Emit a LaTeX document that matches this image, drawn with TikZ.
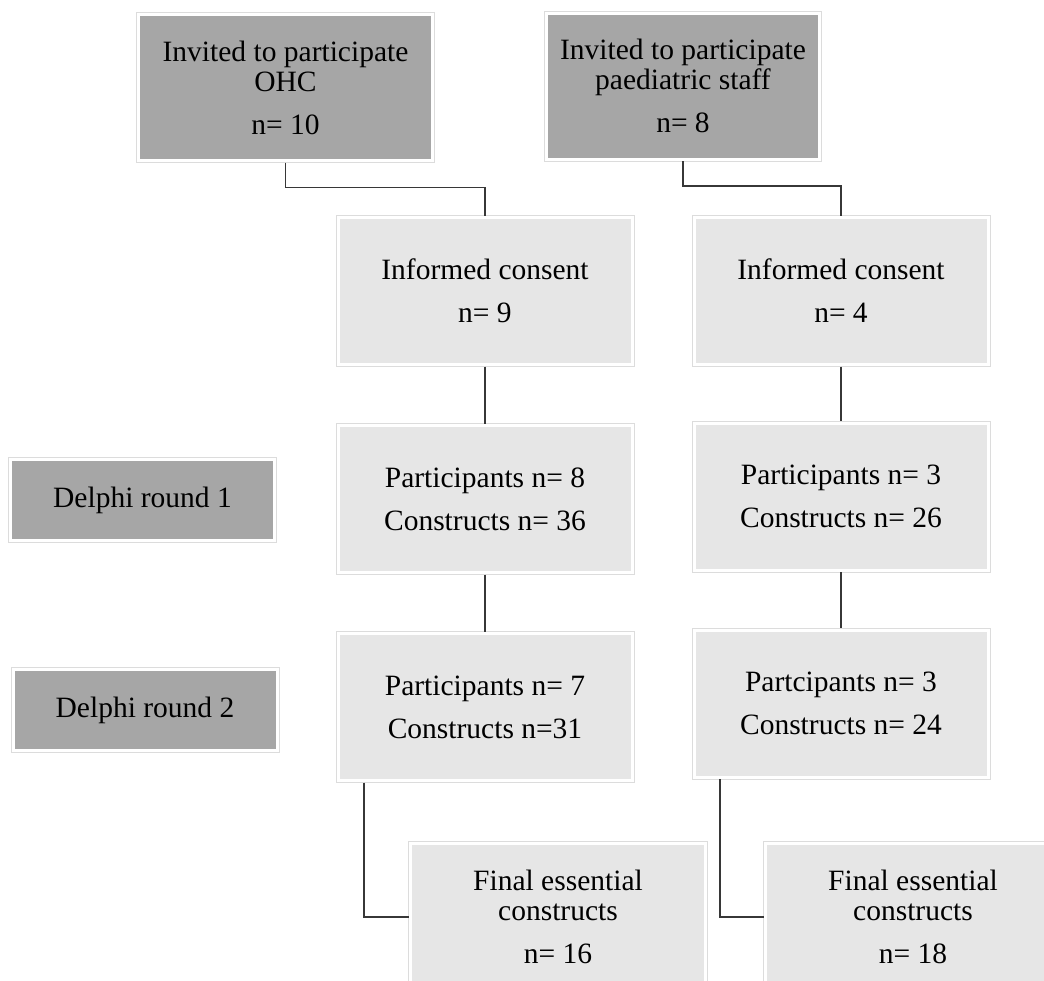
\documentclass[tikz,border=0pt]{standalone}
\usepackage{fontspec}
\setmainfont{Liberation Serif}
\definecolor{invitecolor}{RGB}{166, 166, 166}
\definecolor{stagecolor}{RGB}{230, 230, 230}
\definecolor{framecolor}{RGB}{220, 220, 220}
\definecolor{linecolor}{RGB}{55, 55, 55}
\tikzset{
blocktext/.style={
  align=center,
  font=\fontsize{14.75pt}{21.5pt}\selectfont,
  text=black
},
framed/.style={
  outer sep=1.75pt,
  append after command={
    \pgfextra{\draw[framecolor, line width=0.5pt]
      (\tikzlastnode.north west) rectangle (\tikzlastnode.south east);}
  }
},
inviteblock/.style={
  fill=invitecolor,
  minimum width=145.5pt,
  minimum height=71.5pt,
  framed,
  blocktext
},
stageblock/.style={
  fill=stagecolor,
  minimum width=145.5pt,
  minimum height=72pt,
  framed,
  blocktext
},
roundblock/.style={
  fill=invitecolor,
  minimum width=130.5pt,
  minimum height=39pt,
  framed,
  blocktext
},
link/.style={
  line width=0.75pt,
  draw=linecolor
}
}
\begin{document}
\begin{tikzpicture}[x=0.5pt, y=-0.5pt]
  \useasboundingbox (0,0) rectangle (1044,980);

  % invited
  \node[inviteblock] (ohc) at (285.5,87.5) {Invited to participate\\[-6.5pt] OHC\\ n= 10};
  \node[inviteblock, minimum width=135pt] (paed) at (683,86) {Invited to participate\\[-6.5pt] paediatric staff\\ n= 8};

  % delphi rounds
  \node[roundblock] (round1) at (142.5,500) {Delphi round 1};
  \node[roundblock] (round2) at (145,710) {Delphi round 2};

  % OHC column
  \node[stageblock] (consentL) at (485,291) {Informed consent\\ n= 9};
  \node[stageblock] (partL1) at (485,499) {Participants n= 8\\ Constructs n= 36};
  \node[stageblock] (partL2) at (485,707) {Participants n= 7\\ Constructs n=31};
  \node[stageblock, minimum width=146pt] (finalL) at (558,917) {Final essential\\[-6.5pt] constructs\\ n= 16};

  % paediatric column
  \node[stageblock] (consentR) at (841,291) {Informed consent\\ n= 4};
  \node[stageblock] (partR1) at (841,496.5) {Participants n= 3\\ Constructs n= 26};
  \node[stageblock] (partR2) at (841,703.5) {Partcipants n= 3\\ Constructs n= 24};
  \node[stageblock, minimum width=146pt] (finalR) at (913,917) {Final essential\\[-6.5pt] constructs\\ n= 18};

  % connectors
  \draw[link] (ohc.south) -- ++(0,25) -| (consentL.north);
  \draw[link] (paed.south) -- ++(0,25) -| (consentR.north);
  \draw[link] (consentL) -- (partL1);
  \draw[link] (partL1) -- (partL2);
  \draw[link] (consentR) -- (partR1);
  \draw[link] (partR1) -- (partR2);
  \draw[link] ([xshift=14pt]partL2.south west) |- (finalL.west);
  \draw[link] ([xshift=14pt]partR2.south west) |- (finalR.west);
\end{tikzpicture}
\end{document}
